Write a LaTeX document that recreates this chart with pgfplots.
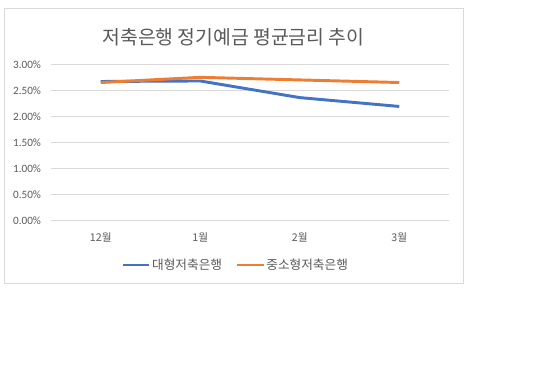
\documentclass[border=0pt]{standalone}
\usepackage{pgfplots}
\pgfplotsset{compat=1.18}
\usepackage{fontspec}
\setmainfont{Carlito}
\newfontfamily\kr{Noto Sans CJK KR}
\definecolor{exblue}{HTML}{4472C4}
\definecolor{exorange}{HTML}{ED7D31}
\definecolor{gridc}{HTML}{D9D9D9}
\definecolor{txt}{HTML}{595959}
\begin{document}
\begin{tikzpicture}
\path (0pt,0pt) rectangle (405pt,280.5pt);
\draw[gridc, line width=0.75pt] (3pt,67.5pt) rectangle (347.25pt,273.75pt);
\node[txt, font=\kr\fontsize{14.5}{17}\selectfont] at (175.1pt,252.75pt) {저축은행 정기예금 평균금리 추이};
\begin{axis}[
  at={(38.25pt,115.25pt)}, anchor=south west,
  scale only axis, width=298.5pt, height=117pt,
  xmin=-0.5, xmax=3.5, ymin=0, ymax=3,
  axis line style={draw=none},
  major tick length=0pt,
  xtick={0,1,2,3},
  xticklabels={12월,1월,2월,3월},
  xticklabel style={font=\kr\fontsize{8}{10}\selectfont, text=txt, yshift=-6pt},
  ytick={0,0.5,1,1.5,2,2.5,3},
  yticklabels={0.00\%,0.50\%,1.00\%,1.50\%,2.00\%,2.50\%,3.00\%},
  yticklabel style={font=\fontsize{8.4}{10}\selectfont, text=txt, xshift=-4pt},
  ymajorgrids, grid style={gridc, line width=0.75pt},
  clip=false,
  legend columns=2,
  legend style={at={(0.463,-0.2865)}, anchor=center, draw=none, fill=none,
    font=\kr\fontsize{9.5}{12}\selectfont, text=txt,
    /tikz/every even column/.append style={column sep=9pt},
    nodes={inner sep=1pt},
    inner sep=0pt},
  legend image code/.code={\draw[#1] (0pt,0pt) -- (20pt,0pt);},
]
\addplot[exblue, line width=2.2pt] coordinates {(0,2.67) (1,2.68) (2,2.36) (3,2.19)};
\addlegendentry{대형저축은행}
\addplot[exorange, line width=2.2pt] coordinates {(0,2.65) (1,2.75) (2,2.70) (3,2.65)};
\addlegendentry{중소형저축은행}
\end{axis}
\end{tikzpicture}
\end{document}
